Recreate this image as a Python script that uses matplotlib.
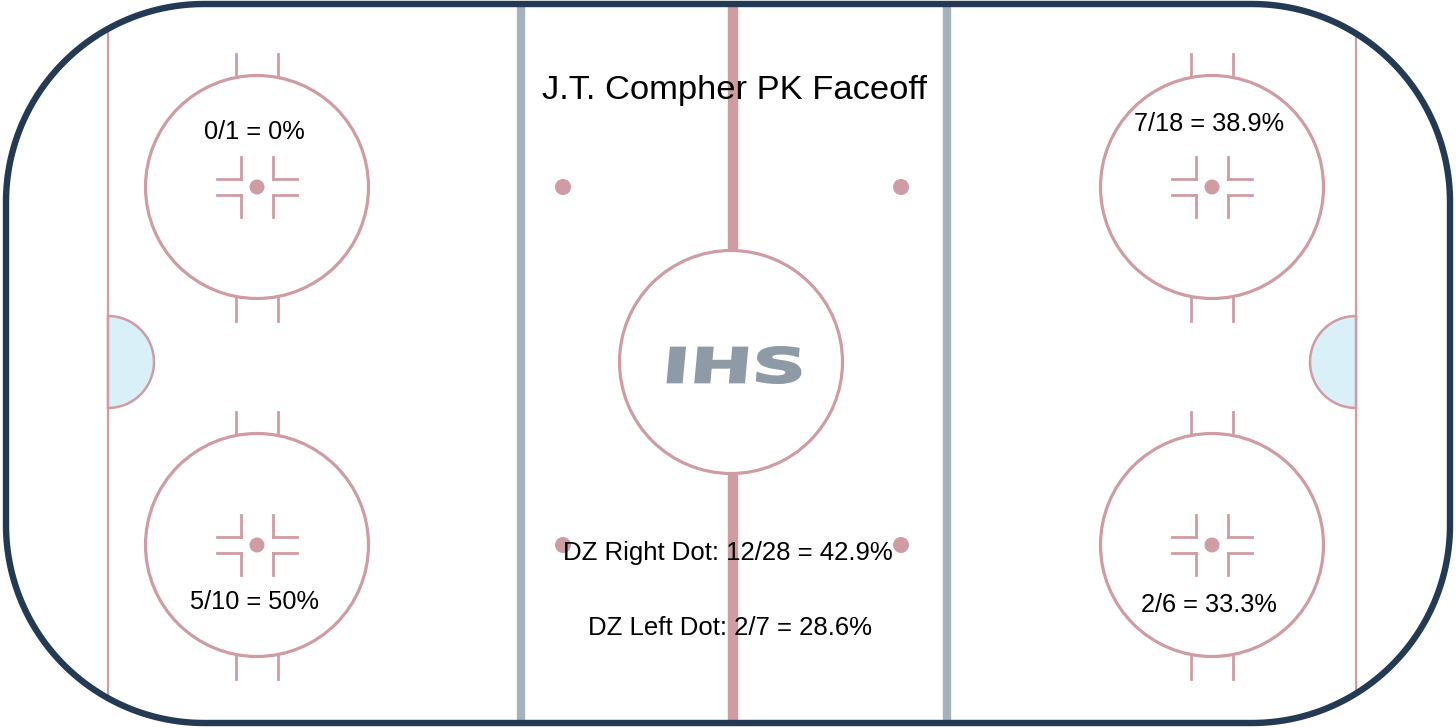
import numpy as np
import matplotlib.pyplot as plt
from matplotlib.patches import Circle, Wedge, PathPatch, Polygon
from matplotlib.textpath import TextPath
from matplotlib.font_manager import FontProperties
import matplotlib.transforms as mtransforms

plt.rcParams['font.family'] = ['Liberation Sans', 'DejaVu Sans']

# faceoff results
title = "J.T. Compher PK Faceoff"
circle_names = ["left top", "left bottom", "right top", "right bottom"]
circle_wins = [0, 5, 7, 2]
circle_totals = [1, 10, 18, 6]
dot_names = ["DZ Right Dot", "DZ Left Dot"]
dot_wins = [12, 2]
dot_totals = [28, 7]

# rink geometry (pixels of the 1456x728 picture)
W, H = 1456, 728
board = dict(x0=6, y0=4, x1=1450, y1=723, r=198)
goal_x = [108, 1356]
blue_x = [521, 947]
red_x = 733
center = (731, 362)
R = 111.5
fo_centers = [(257, 187), (257, 545), (1212, 187), (1212, 545)]
label_y = [132, 602, 124, 605]
nz_dots = [(563, 187), (901, 187), (563, 545), (901, 545)]

pink = '#cf9ca4'
navy = '#243a54'
bluegrey = '#a4b2bd'


def pct(w, t):
    s = '{:.1f}'.format(100.0 * w / t)
    if s.endswith('.0'):
        s = s[:-2]
    return '{}/{} = {}%'.format(w, t, s)


def rounded_rect(x0, y0, x1, y1, r, n=60):
    # corners with true circular arcs
    pts = []
    for (cx, cy, a0) in [(x1 - r, y0 + r, -90), (x1 - r, y1 - r, 0), (x0 + r, y1 - r, 90), (x0 + r, y0 + r, 180)]:
        a = np.radians(np.linspace(a0, a0 + 90, n))
        pts.append(np.column_stack([cx + r * np.cos(a), cy + r * np.sin(a)]))
    return np.vstack(pts)


fig = plt.figure(figsize=(W / 100, H / 100), dpi=100)
ax = fig.add_axes([0, 0, 1, 1])
ax.set_xlim(0, W)
ax.set_ylim(H, 0)
ax.axis('off')

outline = rounded_rect(board['x0'], board['y0'], board['x1'], board['y1'], board['r'])
rink = Polygon(outline, closed=True, facecolor='white', edgecolor='none', zorder=0)
ax.add_patch(rink)

# goal lines and creases
for gx in goal_x:
    ln, = ax.plot([gx, gx], [0, H], color=pink, lw=1.6, zorder=2)
    ln.set_clip_path(rink)
for gx, (t1, t2) in zip(goal_x, [(-90, 90), (90, 270)]):
    ax.add_patch(Wedge((gx, 362), 46, t1, t2, facecolor='#daf0f8', edgecolor=pink, lw=1.8, zorder=3))

# blue lines and red line
for bx in blue_x:
    ln, = ax.plot([bx, bx], [0, H], color=bluegrey, lw=6, zorder=1, solid_capstyle='butt')
    ln.set_clip_path(rink)
ln, = ax.plot([red_x, red_x], [0, H], color=pink, lw=7.5, zorder=1, solid_capstyle='butt')
ln.set_clip_path(rink)

# center circle
ax.add_patch(Circle(center, R, facecolor='white', edgecolor=pink, lw=2.3, zorder=3))

# neutral zone dots
for (dx, dy) in nz_dots:
    ax.add_patch(Circle((dx, dy), 8, color=pink, zorder=3, lw=0))

# faceoff circles
for (cx, cy) in fo_centers:
    ax.add_patch(Circle((cx, cy), R, facecolor='none', edgecolor=pink, lw=2.3, zorder=3))
    ax.add_patch(Circle((cx, cy), 7.5, color=pink, zorder=3, lw=0))
    for s in (-1, 1):
        # hash marks
        for hx in (cx - 21, cx + 21):
            dy = np.sqrt(R ** 2 - 21 ** 2)
            ax.plot([hx, hx], [cy + s * dy, cy + s * (R + 22)], color=pink, lw=2, zorder=3)
        # L marks
        for sx in (-1, 1):
            ax.plot([cx + sx * 16, cx + sx * 40], [cy + s * 8, cy + s * 8], color=pink, lw=2, zorder=3)
            ax.plot([cx + sx * 16, cx + sx * 16], [cy + s * 8, cy + s * 30], color=pink, lw=2, zorder=3)

# board outline on top
ax.add_patch(Polygon(outline, closed=True, facecolor='none', edgecolor=navy, lw=4.6, zorder=5))

# IHS logo
tp = TextPath((0, 0), 'IHS', prop=FontProperties(family='DejaVu Sans', weight='bold', style='italic'))
ext = tp.get_extents()
lw_, lh_ = 138, 36
tr = (mtransforms.Affine2D().translate(-ext.x0 - ext.width / 2, -ext.y0 - ext.height / 2)
      .scale(lw_ / ext.width, -lh_ / ext.height).skew_deg(12, 0).translate(center[0] + 2, center[1] + 3))
ax.add_patch(PathPatch(tr.transform_path(tp), facecolor='#8e9ba7', edgecolor='#8e9ba7', lw=1.5, zorder=4))

# texts
ax.text(735, 90, title, ha='center', va='center', fontsize=24.8, zorder=6)
for (cx, cy), ly, w, t in zip(fo_centers, label_y, circle_wins, circle_totals):
    ax.text(cx - 3, ly, pct(w, t), ha='center', va='center', fontsize=18.3, zorder=6)
for name, w, t, (tx, ty) in zip(dot_names, dot_wins, dot_totals, [(728, 553), (730, 628)]):
    ax.text(tx, ty, '{}: {}'.format(name, pct(w, t)), ha='center', va='center', fontsize=18.5, zorder=6)

fig.savefig('out.png', dpi=100, facecolor='white')
